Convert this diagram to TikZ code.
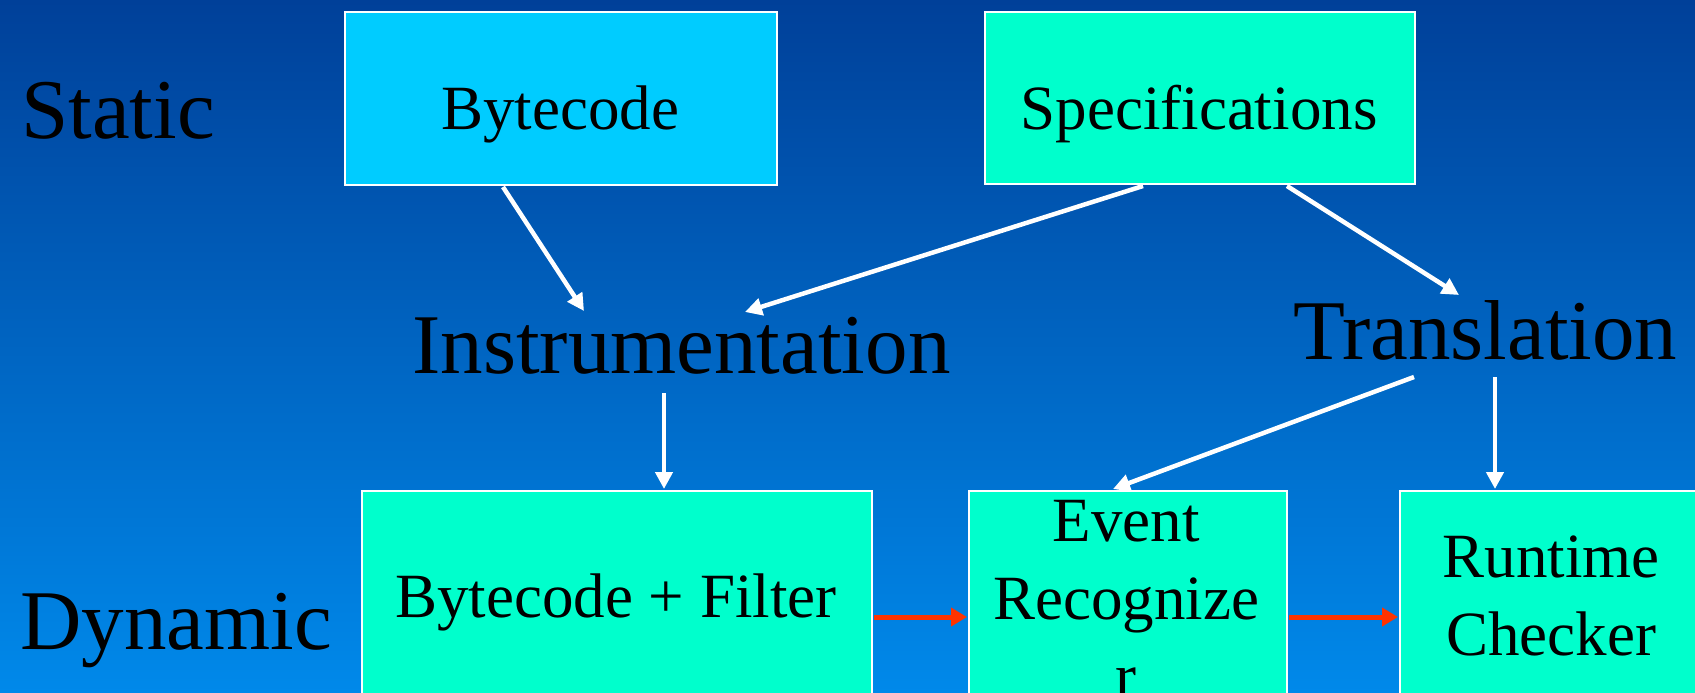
\documentclass[tikz,border=0pt]{standalone}
\usepackage{fontspec}
\setmainfont{Liberation Serif}
\usetikzlibrary{calc,arrows.meta}

\definecolor{bgtop}{RGB}{0,64,153}
\definecolor{bgbot}{RGB}{0,137,234}
\definecolor{boxcyan}{RGB}{0,204,255}
\definecolor{boxmint}{RGB}{0,255,204}
\definecolor{flowred}{RGB}{255,51,0}

\tikzset{
  stagebox/.style={draw=white, line width=2pt, inner sep=0pt, anchor=north west},
  boxtext/.style={font=\fontsize{63}{78}\selectfont, inner sep=0pt, anchor=base, text=black},
  bigtext/.style={font=\fontsize{85}{100}\selectfont, inner sep=0pt, anchor=base west, text=black},
  flow/.style={draw=white, line width=4.5pt, -{Triangle[length=17pt,width=17pt]}},
  runflow/.style={draw=flowred, line width=5pt, -{Triangle[length=16pt,width=18pt]}},
}

\begin{document}
\begin{tikzpicture}[x=1pt,y=-1pt]
  % backdrop
  \shade[top color=bgtop, bottom color=bgbot] (0,0) rectangle (1695,693);
  \useasboundingbox (0,0) rectangle (1695,693);

  % stage labels
  \node[bigtext] (static) at (21,138) {Static};
  \node[bigtext] (dynamic) at (20,649) {Dynamic};

  % static inputs
  \node[stagebox, fill=boxcyan, minimum width=432, minimum height=173] (bc) at (344,11) {};
  \node[boxtext] (bctext) at (560,129) {Bytecode};
  \node[stagebox, fill=boxmint, minimum width=430, minimum height=172] (spec) at (984,11) {};
  \node[boxtext] (spectext) at (1199,129) {Specifications};

  % processing steps
  \node[bigtext] (instr) at (412,373) {Instrumentation};
  \node[bigtext] (transl) at (1293,359) {Translation};

  % runtime components
  \node[stagebox, fill=boxmint, minimum width=510, minimum height=210] (bf) at (361,490) {};
  \node[boxtext] (bftext) at (616,617) {Bytecode + Filter};
  \node[stagebox, fill=boxmint, minimum width=318, minimum height=210] (ev) at (968,490) {};
  \node[boxtext] (evtext) at (1126,541)
    {\begin{tabular}[t]{@{}c@{}}Event\\Recognize\\r\end{tabular}};
  \node[stagebox, fill=boxmint, minimum width=306, minimum height=210] (rc) at (1399,490) {};
  \node[boxtext] (rctext) at (1551,577)
    {\begin{tabular}[t]{@{}c@{}}Runtime\\Checker\end{tabular}};

  % static-to-dynamic flow
  \draw[flow] ($(bc.south west)+(159,1)$) -- ($(instr.base west)+(172,-62)$);
  \draw[flow] ($(spec.south west)+(159,1)$) -- ($(instr.base west)+(333,-61)$);
  \draw[flow] ($(spec.south west)+(303,1)$) -- ($(transl.base west)+(166,-64)$);
  \draw[flow] ($(instr.base west)+(252,20)$) -- ($(bf.north west)+(303,-1)$);
  \draw[flow] ($(transl.base west)+(121,18)$) -- ($(ev.north west)+(145,-1)$);
  \draw[flow] ($(transl.base west)+(202,18)$) -- ($(rc.north west)+(96,-1)$);

  % event stream at run time
  \draw[runflow] ($(bf.north east)+(1,127)$) -- ($(ev.north west)+(-1,127)$);
  \draw[runflow] ($(ev.north east)+(1,127)$) -- ($(rc.north west)+(-1,127)$);
\end{tikzpicture}
\end{document}
